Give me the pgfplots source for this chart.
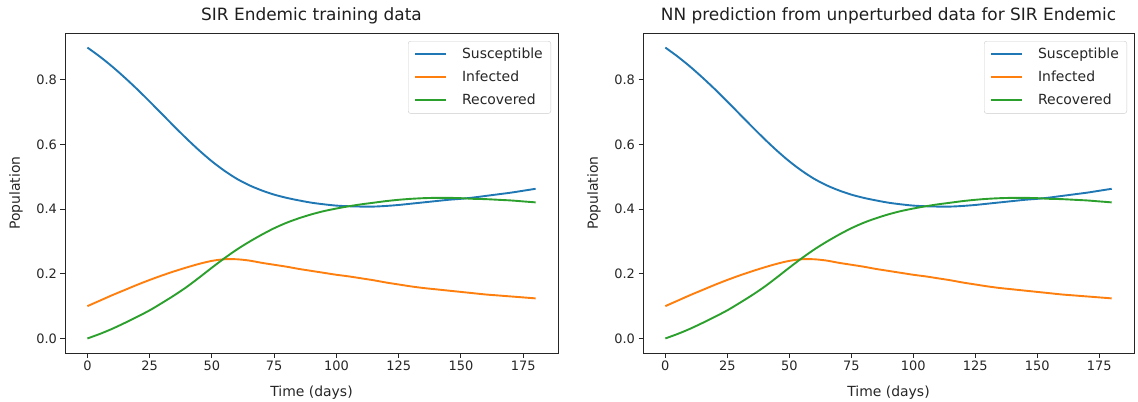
\documentclass[border=0pt]{standalone}
\usepackage{fontspec}
\setmainfont{DejaVu Sans}
\usepackage{pgfplots}
\pgfplotsset{compat=1.18}
\usepackage{pgfplotstable}

\definecolor{tabblue}{HTML}{1F77B4}
\definecolor{taborange}{HTML}{FF7F0E}
\definecolor{tabgreen}{HTML}{2CA02C}

% SIR endemic trajectories (fractions of population)
\pgfplotstableread{
t   S     I     R
0   0.900 0.100 0.000
5   0.872 0.117 0.014
10  0.841 0.134 0.030
15  0.807 0.150 0.048
20  0.771 0.166 0.067
25  0.733 0.181 0.087
30  0.694 0.195 0.110
35  0.655 0.208 0.134
40  0.617 0.220 0.160
45  0.581 0.231 0.189
50  0.548 0.240 0.219
55  0.519 0.245 0.248
60  0.494 0.245 0.275
65  0.474 0.241 0.299
70  0.458 0.234 0.321
75  0.445 0.228 0.341
80  0.435 0.222 0.358
85  0.427 0.215 0.372
90  0.420 0.209 0.384
95  0.415 0.203 0.394
100 0.411 0.197 0.402
105 0.409 0.192 0.409
110 0.408 0.186 0.415
115 0.408 0.180 0.420
120 0.410 0.173 0.425
125 0.413 0.167 0.429
130 0.417 0.161 0.432
135 0.421 0.156 0.434
140 0.425 0.152 0.435
145 0.429 0.148 0.435
150 0.432 0.144 0.434
155 0.436 0.140 0.432
160 0.441 0.136 0.431
165 0.446 0.133 0.429
170 0.451 0.130 0.427
175 0.457 0.127 0.424
180 0.463 0.124 0.421
}\sirtrain

% network output on the same time grid
\pgfplotstableread{
t   S     I     R
0   0.900 0.100 0.000
5   0.872 0.117 0.014
10  0.841 0.134 0.030
15  0.807 0.150 0.048
20  0.771 0.166 0.067
25  0.733 0.181 0.087
30  0.694 0.195 0.110
35  0.655 0.208 0.134
40  0.617 0.220 0.160
45  0.581 0.231 0.189
50  0.548 0.240 0.219
55  0.519 0.245 0.248
60  0.494 0.245 0.275
65  0.474 0.241 0.299
70  0.458 0.234 0.321
75  0.445 0.228 0.341
80  0.435 0.222 0.358
85  0.427 0.215 0.372
90  0.420 0.209 0.384
95  0.415 0.203 0.394
100 0.411 0.197 0.402
105 0.409 0.192 0.409
110 0.408 0.186 0.415
115 0.408 0.180 0.420
120 0.410 0.173 0.425
125 0.413 0.167 0.429
130 0.417 0.161 0.432
135 0.421 0.156 0.434
140 0.425 0.152 0.435
145 0.429 0.148 0.435
150 0.432 0.144 0.434
155 0.436 0.140 0.432
160 0.441 0.136 0.431
165 0.446 0.133 0.429
170 0.451 0.130 0.427
175 0.457 0.127 0.424
180 0.463 0.124 0.421
}\sirpred

\pgfplotsset{
  sirpanel/.style={
    scale only axis, height=320bp,
    xmin=-9, xmax=189, ymin=-0.045, ymax=0.945,
    xtick={0,25,50,75,100,125,150,175},
    ytick={0,0.2,0.4,0.6,0.8},
    /pgf/number format/assume math mode=true,
    yticklabel style={/pgf/number format/.cd, fixed, fixed zerofill, precision=1},
    tick align=outside, tick pos=left,
    major tick length=4.5bp,
    tick style={line width=0.9bp, black!85},
    axis line style={line width=0.9bp, black!85},
    ticklabel style={font=\fontsize{13}{15}\selectfont, text=black!85},
    title style={font=\fontsize{17}{20}\selectfont, text=black!88,
      at={(axis description cs:0.5,1.021875)}, anchor=base},
    xlabel style={font=\fontsize{14}{16}\selectfont, text=black!85,
      at={(axis description cs:0.5,-0.1375)}, anchor=base},
    ylabel style={font=\fontsize{14}{16}\selectfont, text=black!85, anchor=center},
    xlabel={Time (days)}, ylabel={Population},
    legend cell align=left,
    legend image code/.code={\draw[#1, line width=1.9bp] (0bp,0bp) -- (31bp,0bp);},
    legend style={at={(rel axis cs:1,1)}, anchor=north east,
      xshift=-7bp, yshift=-8bp,
      draw=black!20, rounded corners=2.5bp, fill=white, fill opacity=0.8,
      text opacity=1, font=\fontsize{14}{16}\selectfont, text=black!85,
      inner xsep=6bp, inner ysep=5bp, row sep=7bp, column sep=13bp},
  },
  sirline/.style={line width=1.9bp, no marks, smooth, tension=0.5},
}

\begin{document}
\begin{tikzpicture}
\useasboundingbox (0,0) rectangle (1138bp,402bp);

\begin{axis}[sirpanel, width=493bp, at={(65bp,49bp)}, anchor=south west,
  title={SIR Endemic training data},
  ylabel style={at={(axis description cs:-0.0994,0.5)}}]
  \addplot[sirline, tabblue]   table[x=t, y=S] {\sirtrain};
  \addplot[sirline, taborange] table[x=t, y=I] {\sirtrain};
  \addplot[sirline, tabgreen]  table[x=t, y=R] {\sirtrain};
  \legend{Susceptible, Infected, Recovered}
\end{axis}

\begin{axis}[sirpanel, width=491bp, at={(643bp,49bp)}, anchor=south west,
  title={NN prediction from unperturbed data for SIR Endemic},
  ylabel style={at={(axis description cs:-0.0998,0.5)}}]
  \addplot[sirline, tabblue]   table[x=t, y=S] {\sirpred};
  \addplot[sirline, taborange] table[x=t, y=I] {\sirpred};
  \addplot[sirline, tabgreen]  table[x=t, y=R] {\sirpred};
  \legend{Susceptible, Infected, Recovered}
\end{axis}
\end{tikzpicture}
\end{document}
